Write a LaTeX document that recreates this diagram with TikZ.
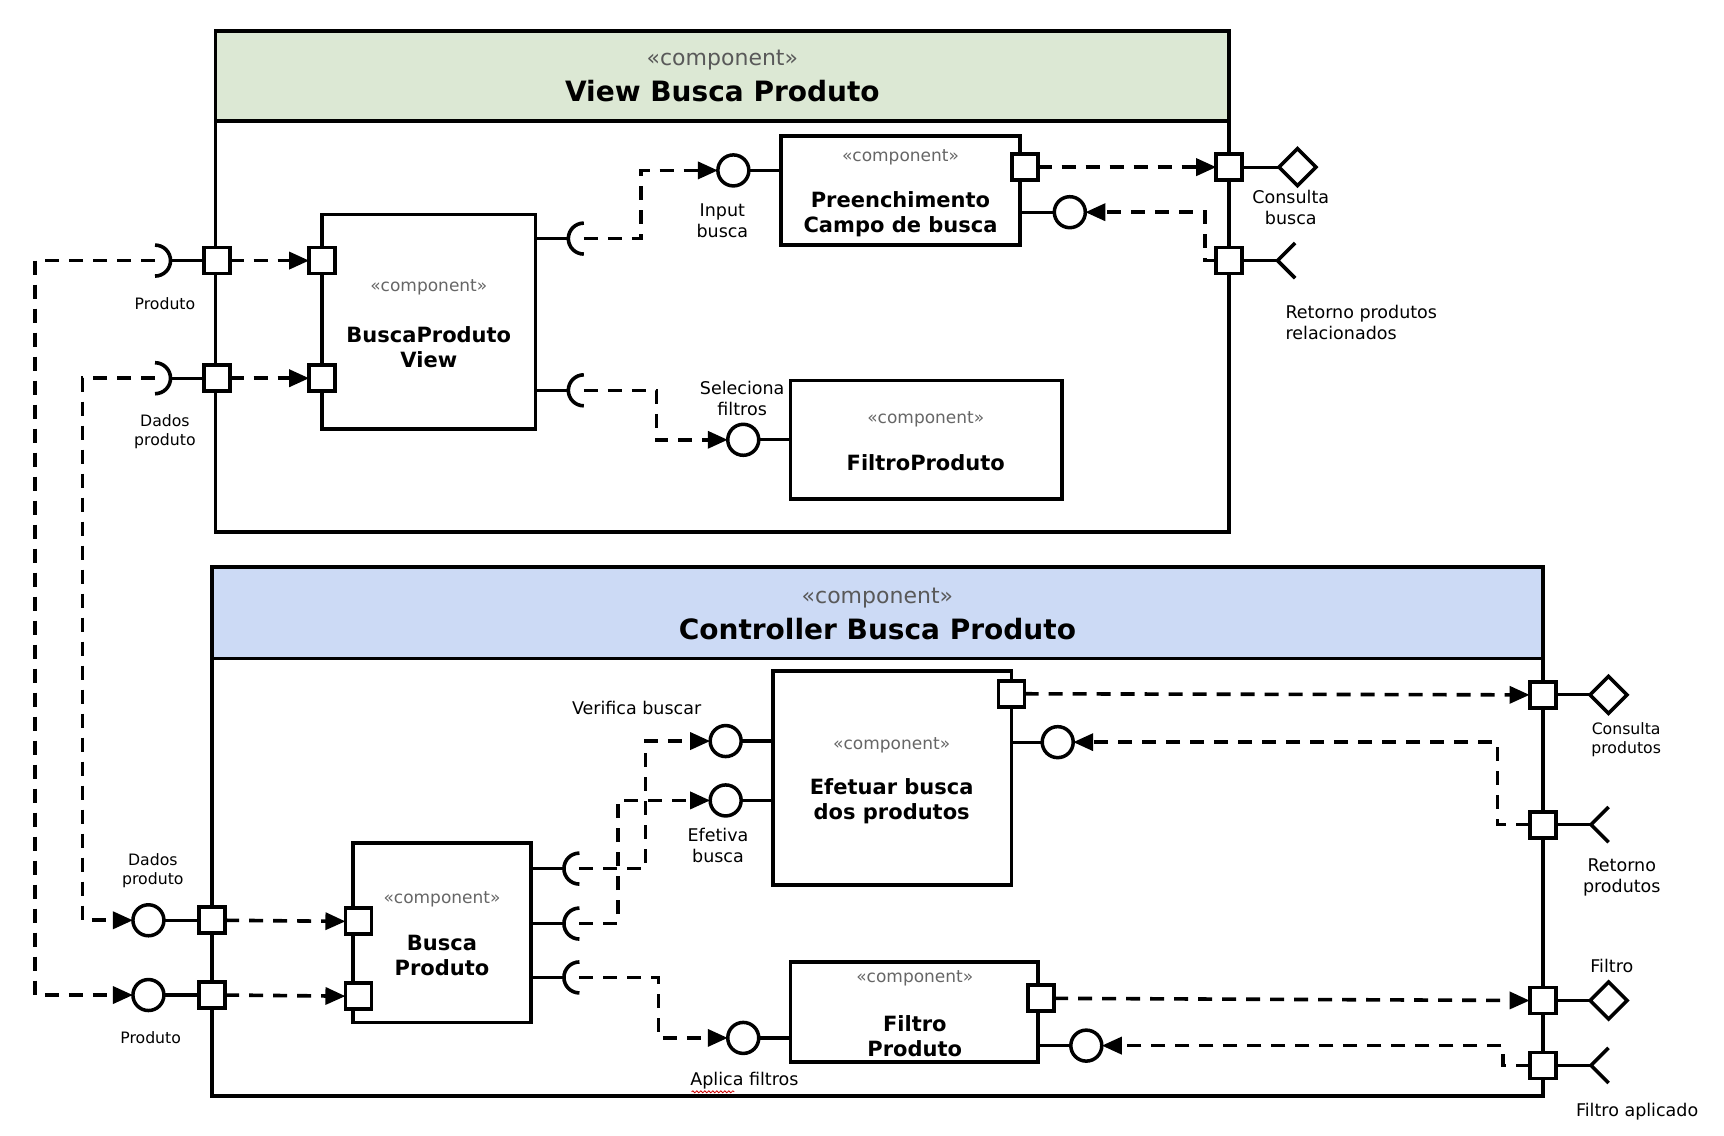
\documentclass[tikz,border=0pt]{standalone}
\usepackage{fontspec}
\setmainfont{DejaVu Sans}
\usetikzlibrary{arrows.meta,fit,shapes.geometric,decorations.pathmorphing}
\definecolor{vgreen}{RGB}{220,232,212}
\definecolor{cblue}{RGB}{204,218,245}
\begin{document}
\begin{tikzpicture}[x=1.0995pt,y=-1.0995pt,
  lw/.style={line width=3.2pt},
  boxfit/.style={draw, line width=3.8pt, inner sep=0pt, outer sep=0pt},
  portsq/.style={draw, fill=white, line width=3.8pt, minimum size=26pt, inner sep=0pt, outer sep=0pt},
  provc/.style={circle, draw, fill=white, line width=3.5pt, minimum size=31pt, inner sep=0pt, outer sep=0pt},
  dmd/.style={diamond, draw, fill=white, line width=3.5pt, minimum width=37pt, minimum height=37pt, inner sep=0pt, outer sep=0pt},
  conn/.style={line width=3.6pt, dash pattern=on 14pt off 10pt, -{Triangle[length=20pt,width=17pt]}},
  stereo/.style={text=black!60, font=\fontsize{17}{20}\selectfont},
  hstereo/.style={text=black!65, font=\fontsize{22}{26}\selectfont},
  htitle/.style={font=\fontsize{28}{33}\selectfont\bfseries},
  ctitle/.style={font=\fontsize{21}{25}\selectfont\bfseries, align=center},
  lbl/.style={font=\fontsize{17.5}{21}\selectfont, align=center},
  slbl/.style={font=\fontsize{15.7}{19}\selectfont, align=center}]
\useasboundingbox (0,0) rectangle (1568,1033);

% ---------------- containers ----------------
\node[boxfit, fill=vgreen, fit={(196,28) (1118,110)}] (vhead) {};
\node[boxfit, fit={(196,110) (1118,484)}] (vbody) {};
\node[boxfit, fill=cblue, fit={(193,516) (1403,599)}] (chead) {};
\node[boxfit, fit={(193,599) (1403,997)}] (cbody) {};

% ---------------- inner components ----------------
\node[boxfit, fill=white, fit={(293,195) (487,390)}] (bpv) {};
\node[boxfit, fill=white, fit={(710,124) (928,223)}] (pre) {};
\node[boxfit, fill=white, fit={(719,346) (966,454)}] (filt) {};
\node[boxfit, fill=white, fit={(321,767) (483,930)}] (bp) {};
\node[boxfit, fill=white, fit={(703,610) (920,805)}] (ef) {};
\node[boxfit, fill=white, fit={(719,875) (944,966)}] (fp) {};

% ---------------- socket centres and fork vertices ----------------
\coordinate (sP1) at (141,237);
\coordinate (sP2) at (141,344);
\coordinate (sI1) at (531,217);
\coordinate (sI2) at (531,355);
\coordinate (sV) at (527,790);
\coordinate (sE) at (527,840);
\coordinate (sA) at (527,889);
\coordinate (fk1) at (1162,237);
\coordinate (fk2) at (1447,750);
\coordinate (fk3) at (1447,969);

% ---------------- solid stubs ----------------
\draw[lw] ([xshift=15.5pt]sP1) -- (197,237);
\draw[lw] ([xshift=15.5pt]sP2) -- (197,344);
\draw[lw] (sI1 -| bpv.east) -- ([xshift=-15.5pt]sI1);
\draw[lw] (sI2 -| bpv.east) -- ([xshift=-15.5pt]sI2);
\draw[lw] (sV -| bp.east) -- ([xshift=-15.5pt]sV);
\draw[lw] (sE -| bp.east) -- ([xshift=-15.5pt]sE);
\draw[lw] (sA -| bp.east) -- ([xshift=-15.5pt]sA);
\draw[lw] (1118,237) -- (fk1);
\draw[lw] (1403,750) -- (fk2);
\draw[lw] (1403,969) -- (fk3);

% socket arcs
\draw[line width=3.6pt] ([yshift=15.5pt]sP1) arc[start angle=90, end angle=-90, radius=15.5pt];
\draw[line width=3.6pt] ([yshift=15.5pt]sP2) arc[start angle=90, end angle=-90, radius=15.5pt];
\foreach \s in {sI1,sI2,sV,sE,sA}
  \draw[line width=3.6pt] ([yshift=15.5pt]\s) arc[start angle=90, end angle=270, radius=15.5pt];
% forks
\foreach \f in {fk1,fk2,fk3}
  \draw[line width=3.6pt] ([shift={(16,-16)}]\f) -- (\f) -- ([shift={(16,16)}]\f);

% ---------------- provided interfaces (circles) ----------------
\node[provc] (cIn) at (667,155) {};
\node[provc] (cPre) at (973,193) {};
\node[provc] (cSel) at (676,400) {};
\node[provc] (cBD) at (135,837) {};
\node[provc] (cBP) at (135,905) {};
\node[provc] (cV) at (660,674) {};
\node[provc] (cE) at (660,728) {};
\node[provc] (cA) at (676,944) {};
\node[provc] (cEf) at (962,675) {};
\node[provc] (cFp) at (988,951) {};

\draw[lw] (cIn.east) -- (cIn -| pre.west);
\draw[lw] (cPre.west) -- (cPre -| pre.east);
\draw[lw] (cSel.east) -- (cSel -| filt.west);
\draw[lw] (cV.east) -- (cV -| ef.west);
\draw[lw] (cE.east) -- (cE -| ef.west);
\draw[lw] (cA.east) -- (cA -| fp.west);
\draw[lw] (cEf.west) -- (cEf -| ef.east);
\draw[lw] (cFp.west) -- (cFp -| fp.east);

% ---------------- diamonds ----------------
\node[dmd] (dCB) at (1180,152) {};
\node[dmd] (dCP) at (1463,632) {};
\node[dmd] (dF) at (1463,910) {};

% ---------------- ports ----------------
\node[portsq] (pvP1) at (197,237) {};
\node[portsq] (pvP2) at (197,344) {};
\node[portsq] (ipB1) at (293,237) {};
\node[portsq] (ipB2) at (293,344) {};
\node[portsq] (preP) at (932,152) {};
\node[portsq] (vR1) at (1118,152) {};
\node[portsq] (vR2) at (1118,237) {};
\node[portsq] (cL1) at (193,837) {};
\node[portsq] (cL2) at (193,905) {};
\node[portsq] (bpI1) at (326,838) {};
\node[portsq] (bpI2) at (326,906) {};
\node[portsq] (efP) at (920,631) {};
\node[portsq] (fpP) at (947,908) {};
\node[portsq] (R1) at (1403,632) {};
\node[portsq] (R2) at (1403,750) {};
\node[portsq] (R3) at (1403,910) {};
\node[portsq] (R4) at (1403,969) {};

\draw[lw] (vR1.east) -- (dCB.west);
\draw[lw] (R1.east) -- (dCP.west);
\draw[lw] (R3.east) -- (dF.west);
\draw[lw] (cBD.east) -- (cL1.west);
\draw[lw] (cBP.east) -- (cL2.west);

% ---------------- dashed connectors ----------------
\draw[conn] (sP1) -- (32,237) |- (cBP.west);
\draw[conn] (sP2) -- (75,344) |- (cBD.west);
\draw[conn] (pvP1.east) -- (ipB1.west);
\draw[conn] (pvP2.east) -- (ipB2.west);
\draw[conn] (sI1) -- (583,217) |- (cIn.west);
\draw[conn] (sI2) -- (597,355) |- (cSel.west);
\draw[conn] (preP.east) -- (vR1.west);
\draw[conn] (vR2.west) -- (1096,237) |- (cPre.east);
\draw[conn] (cL1.east) -- (bpI1.west);
\draw[conn] (cL2.east) -- (bpI2.west);
\draw[conn] (sV) -- (587,790) |- (cV.west);
\draw[conn] (sE) -- (562,840) |- (cE.west);
\draw[conn] (sA) -- (599,889) |- (cA.west);
\draw[conn] (efP.east) -- (R1.west);
\draw[conn] (R2.west) -- (1362,750) |- (cEf.east);
\draw[conn] (fpP.east) -- (R3.west);
\draw[conn] (R4.west) -- (1367,969) |- (cFp.east);

% ---------------- texts ----------------
\node[hstereo] (tvs) at (657,55) {«component»};
\node[htitle] (tvt) at (657,83) {View Busca Produto};
\node[hstereo] (tcs) at (798,544) {«component»};
\node[htitle] (tct) at (798,572) {Controller Busca Produto};

\node[stereo] (bpvs) at (390,261) {«component»};
\node[ctitle] (bpvt) at (390,316) {BuscaProduto\\View};
\node[stereo] (pres) at (819,143) {«component»};
\node[ctitle] (pret) at (819,195) {Preenchimento\\Campo de busca};
\node[stereo] (filts) at (842,381) {«component»};
\node[ctitle] (filtt) at (842,421) {FiltroProduto};
\node[stereo] (bps) at (402,818) {«component»};
\node[ctitle] (bpt) at (402,869) {Busca\\Produto};
\node[stereo] (efs) at (811,678) {«component»};
\node[ctitle] (eft) at (811,729) {Efetuar busca\\dos produtos};
\node[stereo] (fps) at (832,890) {«component»};
\node[ctitle] (fpt) at (832,942) {Filtro\\Produto};

\node[slbl] (lP1) at (150,276) {Produto};
\node[slbl] (lD1) at (150,393) {Dados\\produto};
\node[lbl] (lIn) at (657,201) {Input\\busca};
\node[lbl] (lCB) at (1174,189) {Consulta\\busca};
\node[lbl, align=left, anchor=west] (lRP) at (1166,293) {Retorno produtos\\relacionados};
\node[lbl] (lSel) at (675,362) {Seleciona\\filtros};

\node[slbl] (lD2) at (139,792) {Dados\\produto};
\node[slbl] (lP2) at (137,944) {Produto};
\node[lbl] (lV) at (579,644) {Verifica buscar};
\node[lbl] (lE) at (653,769) {Efetiva\\busca};
\node[lbl] (lA) at (677,983) {Aplica filtros};
\node[slbl] (lCP) at (1479,673) {Consulta\\produtos};
\node[lbl] (lRt) at (1475,798) {Retorno\\produtos};
\node[lbl] (lF) at (1466,879) {Filtro};
\node[lbl] (lFA) at (1489,1011) {Filtro aplicado};
\draw[red!80!black, line width=0.8pt, decorate, decoration={snake, amplitude=1pt, segment length=4pt}] (629,993) -- (668,993);
\end{tikzpicture}
\end{document}
